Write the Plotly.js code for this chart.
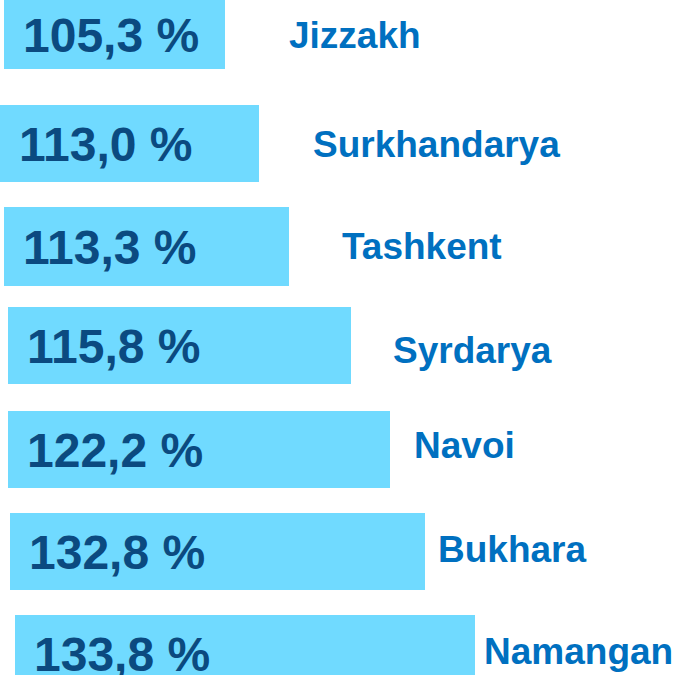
<!DOCTYPE html>
<html>
<head>
<meta charset="utf-8">
<script src="https://cdn.plot.ly/plotly-3.0.1.min.js"></script>
<style>html,body{margin:0;padding:0;background:#fff;}#chart{width:685px;height:675px;}</style>
</head>
<body>
<div id="chart"></div>
<script>
// ---- data ----
const regions = ["Jizzakh", "Surkhandarya", "Tashkent", "Syrdarya", "Navoi", "Bukhara", "Namangan"];
const growthPct = [105.3, 113.0, 113.3, 115.8, 122.2, 132.8, 133.8];
// drawn bar lengths (infographic units)
const barLength = [221, 259, 285, 343, 382, 415, 460];

// ---- layout constants (positions / styles) ----
const barStart = [4, 0, 4, 8, 8, 10, 15];
const barOffset = [-0.294, -0.282, -0.300, -0.337, -0.335, -0.353, -0.371];
const barThick = [0.665, 0.742, 0.761, 0.742, 0.742, 0.742, 0.742];
const nameGap = [62, 52, 51, 40, 22, 11, 7];
const nameShift = [-1, -1, 0, -5, 4, 2, 2];
const valueInset = 17;
const barColor = "#70DAFF";
const valueColor = "#0B4A80";
const nameColor = "#0070C0";
const FONT = "Liberation Sans, Arial, sans-serif";

function fmt(v) { return v.toFixed(1).replace(".", ",") + " %"; }

const trace = {
  type: "bar",
  orientation: "h",
  y: regions,
  x: barLength,
  base: barStart,
  width: barThick,
  offset: barOffset,
  marker: { color: barColor, line: { width: 0 } },
  hoverinfo: "skip"
};

const annotations = [];
regions.forEach((r, i) => {
  const yc = i + barOffset[i] + barThick[i] / 2;
  annotations.push({
    xref: "x", yref: "y", x: barStart[i] + valueInset, y: yc,
    xanchor: "left", yanchor: "middle", yshift: -1,
    text: fmt(growthPct[i]), showarrow: false,
    font: { family: FONT, size: 48, color: valueColor, weight: "bold" }
  });
  annotations.push({
    xref: "x", yref: "y", x: barStart[i] + barLength[i] + nameGap[i], y: yc,
    xanchor: "left", yanchor: "middle", yshift: nameShift[i],
    text: r, showarrow: false,
    font: { family: FONT, size: 37, color: nameColor, weight: "bold" }
  });
});

const layout = {
  width: 685, height: 675,
  margin: { l: 0, r: 0, t: 0, b: 0, pad: 0 },
  paper_bgcolor: "#ffffff", plot_bgcolor: "#ffffff",
  showlegend: false,
  xaxis: { range: [0, 685], visible: false, fixedrange: true },
  yaxis: { type: "category", range: [6.207, -0.294], visible: false, fixedrange: true },
  annotations: annotations
};

Plotly.newPlot("chart", [trace], layout, { staticPlot: true, displayModeBar: false });
</script>
</body>
</html>
